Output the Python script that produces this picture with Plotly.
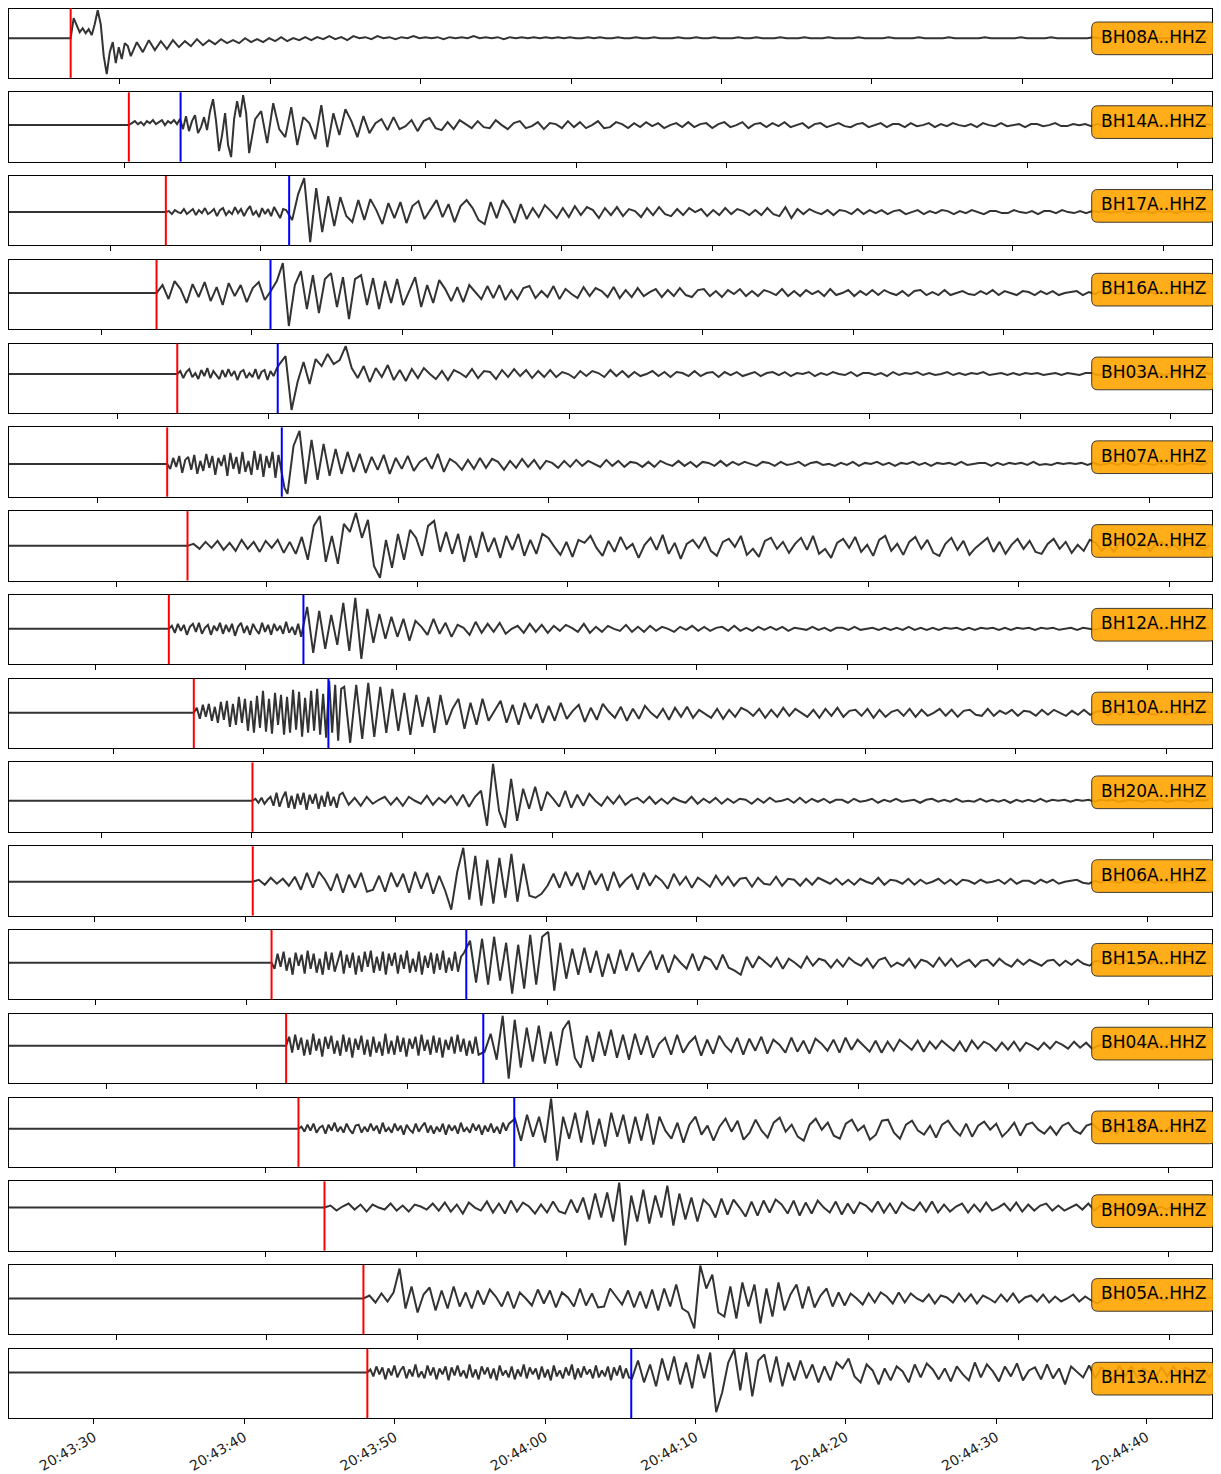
import datetime
import plotly.graph_objects as go

# ---------------- data ----------------
DAY = "2020-01-01"
stations = ["BH08A", "BH14A", "BH17A", "BH16A", "BH03A", "BH07A", "BH02A", "BH12A", "BH10A",
            "BH20A", "BH06A", "BH15A", "BH04A", "BH18A", "BH09A", "BH05A", "BH13A"]
channel = "HHZ"
trace_start = ["20:43:22.625", "20:43:22.292", "20:43:23.243", "20:43:23.860", "20:43:22.757",
               "20:43:24.126", "20:43:22.844", "20:43:24.259", "20:43:23.043", "20:43:23.860",
               "20:43:24.286", "20:43:24.219", "20:43:23.528", "20:43:22.910", "20:43:22.910",
               "20:43:22.844", "20:43:24.352"]
window_s = 80.0
# pick times, seconds after trace start
p_pick = [4.10, 7.97, 10.43, 9.81, 11.19, 10.52, 11.87, 10.63, 12.29, 16.19, 16.21, 17.46,
          18.43, 19.25, 20.98, 23.57, 23.83]
s_pick = [None, 11.41, 18.63, 17.39, 17.87, 18.14, None, 19.58, 21.24, None, None, 30.41,
          31.54, 33.60, None, None, 41.38]
# y limits of each panel (counts)
y_upper = [29.7, 32.9, 36.1, 33.3, 30.5, 36.6, 34.8, 34.0, 34.2, 38.4, 35.6, 32.8, 32.0, 31.2,
           26.3, 33.5, 23.7]
y_lower = [-39.8, -36.6, -33.4, -36.2, -39.0, -32.9, -34.7, -35.5, -35.3, -31.1, -33.9, -36.7,
           -37.5, -38.3, -43.2, -36.0, -45.8]

DT_FINE = 0.2    # first part after the P pick (fine_* lists)
DT_COARSE = 0.4  # remainder of the record (amp_* lists), follows the fine part

fine_BH08A = [0, 20, 13, 6, 10, 5, 9, 3, 14, 28,
              14, -18, -36, -14, -4, -25, -9, -21, -5, -8]
amp_BH08A = [
    -18, -4, -14, -2, -12, -3, -11, -2, -9, -3,
    -8, -1, -7, -2, -6, -1, -5, -2, -5, 0, -4, -1, -4, 0, -3, 1, -3, 0, -2, 1,
    -2, 1, -1, 2, -1, 1, -2, 2, 0, 1, -1, 2, 0, 1, -1, 1, 0, 2, 0, 1,
    0, 1, -1, 1, 0, 1, 0, 2, 0, 1, 0, 1, -1, 1, 0, 1, 0, 1, 0, 1,
    0, 1, 0, 1, 0, 0, 1, 0, 1, 0, 0, 1, 0, 0, 1, 0, 0, 1, 0, 0,
    0, 1, 0, 0, 1, 0, 0, 1, 0, 0, 0, 1, 0, 0, 1, 0, 0, 0, 1, 0,
    0, 0, 1, 0, 0, 0, 1, 0, 0, 0, 0, 1, 0, 0, 0, 0, 1, 0, 0, 0,
    0, 1, 0, 0, 0, 0, 1, 0, 0, 0, 0, 0, 1, 0, 0, 0, 0, 0, 1, 0,
    0, 0, 0, 1, 0, 0, 0, 0, 0, 0, 1, 0, 0, 0, 0, 0, 0, 0, 0, 0,
    0, 0, 0, 0, 0, 0, 0, 0, 0, 0]

fine_BH14A = [0, 2, 4, 1, 3, 0, 4, 2, 5, 1,
              3, 5, 0, 4, 2, 5, 1, 6, -4, 9,
              -6, 4, 10, -8, -2, 8, -5, 14, 26, 4,
              -26, -10, 12, -20, -32, 6, 24, 8, 30, 12]
amp_BH14A = [
    -28, 6, 14, -18, 22, -4, -12, 18, -20, 8, 2, -14, 20, -22, 12, -10, 16, 4, -12, 9,
    -8, 2, 6, -5, 8, -4, -1, 5, -6, 4, 7, -3, -5, 3, -4, 5, 1, -3, 4, -2,
    -3, 5, 0, -4, 2, 4, -3, -1, 3, -4, 2, 1, -3, 4, -2, 3, -3, 0, 4, -3,
    -2, 3, 1, -3, 2, -2, 3, -1, 2, -3, 0, 2, -2, 3, -2, 1, 2, -3, 1, 3,
    -2, 0, 3, -3, 1, 2, -2, 2, -1, 3, -2, 0, 2, -3, 1, 2, -2, 0, 2, -1,
    -2, 1, 2, -2, 0, 2, -2, 1, 1, -2, 2, -1, 0, 2, -2, 1, -1, 2, 0, -1,
    1, -2, 2, 0, -1, 2, -1, 0, 1, -2, 1, 1, -1, 0, 2, -1, -1, 1, 0, 1,
    -1, 1, 0, 2, -1, 0, 1, -1, 0, 1, 1, -1, 0, 1, -1, 0, 1, 0, -1, 1,
    0]

fine_BH17A = [0, 1, -2, 2, 0, -1, 3, -2, 1, 3,
              -3, 2, -1, 4, -2, 0, 3, -4, 2, 4,
              -3, 1, -2, 5, -1, 3, -4, 2, 6, -3,
              1, -5, 4, -2, 3, -4, 5, -1, -6, 3]
amp_BH17A = [
    2, -8, 18, 34, -30, 24, -20, 16, -14, 15, -4, -10, 12, -8, 13, 2, -12, 9, -6, 10,
    -11, 6, 11, -7, 3, 12, -5, 8, -10, 6, 12, 4, -8, -12, 10, -6, 12, 3, -11, 8,
    -7, 4, -5, 7, 1, -6, 4, -5, 6, -3, 5, 2, -6, 4, -3, 5, -4, 3, 1, -5,
    4, -3, 5, -2, -4, 3, -3, 4, 0, 3, -4, 2, -3, 4, -2, 3, 1, -3, 2, -3,
    4, -2, -4, 5, -6, 3, -2, 3, 0, -2, 2, -3, 2, 1, -2, 3, -2, 2, -1, 2,
    -2, 1, 2, -2, 0, 2, -2, 1, -1, 2, 1, -2, 1, -1, 2, 0, -2, 1, 1, -1,
    -1, 2, 0, -1, 1, -2, 1, 1, -1, 2, 0, -1, 1, -1, 1, 0, 1, -1, 0, 1,
    -1, 1, 0, 1, -1, 1, 0, 1, -1, 1, 0, 1, 0, 1, 0]

fine_BH16A = []
amp_BH16A = [
    0, 8, -6, 12, 4, -10, 9, -4, 11, -8, 6, -12, 10, -3, 8, -9, 5, 11, -7, 2,
    12, 30, -33, 8, 22, -16, 18, -20, 14, 20, -14, 16, -26, 14, 18, -12, 15, -16, 12, -10,
    14, -12, 2, 16, -14, 8, -10, 13, 4, -8, 6, -9, 8, 1, -6, 7, -5, 8, -7, 3,
    -6, 5, 7, -5, 2, -4, 7, -6, 4, -1, -5, 6, -3, 5, 2, -4, 6, -5, 3, -4,
    5, -3, 1, 4, -4, 3, -3, 5, -2, -4, 3, 4, -3, 2, -4, 3, -1, 4, -3, 2,
    -3, 3, 1, -2, 4, -3, 2, -3, 3, -1, 2, -3, 4, -2, 0, 3, -3, 2, -2, 3,
    -2, 3, 0, -2, 2, -3, 2, 3, -2, 1, -2, 3, -2, 0, 2, -1, -2, 2, -1, 3,
    -2, 2, 0, -2, 2, 1, -2, 2, -1, 2, -2, 0, 1, 2, -2, 1, -1, 2, -1, 1,
    -1, 2, -1, 0, 1, 2, -1, 1, -1, 0, 1, 1, -1, 1, 0, 1]

fine_BH03A = [0, 3, -4, 2, 5, -3, 1, -5, 4, -2,
              6, -4, 3, -1, -5, 4, -3, 5, -2, 3,
              -6, 2, 4, -4, 1, -3, 5, -5, 2, 4,
              -6, 3, -2, 5]
amp_BH03A = [
    10, 18, -36,
    -8, 12, -10, 15, 8, 20, 10, 14, 28, 6, -4, 8, -8, 6, -3, 9, -6, 4, -7, 5,
    -4, 6, 0, -5, 3, -6, 4, 1, -3, 5, -4, 3, 2, -5, 4, -3, 5, -2, 4, -4,
    3, -3, 4, -3, 2, 0, -4, 3, -2, 3, 1, -3, 4, -2, 3, -3, 2, -2, 0, 3,
    -2, 2, -3, 2, 1, -2, 3, -2, 1, 2, -3, 2, -1, 2, -2, 0, 2, -2, 1, 2,
    -1, 2, -2, 1, 0, 2, -2, 1, -1, 2, 0, -1, 2, -2, 1, 1, -1, 1, -2, 2,
    -1, 1, 0, 2, -1, 1, -1, 0, 2, -1, 1, -1, 1, 0, 2, -1, 0, 1, -1, 1,
    -1, 1, 0, 1, -1, 0, 1, -1, 1, 0, -1, 1, 1, -1, 0, 1, 0, -1, 1, 0,
    -1, 1, 0, 1, -1, 0, 1, 0, 1, 0, -1, 1, 0]

fine_BH07A = [0, -5, 6, -3, 8, -9, 4, 7, -6, 9,
              -10, 3, -7, 10, -4, 8, -11, 6, -2, 9,
              -12, 11, -5, 7, -10, 12, -8, 3, -11, 13,
              -6, 10, -13, 8, -4, 12, -14, 9, -7, -24]
amp_BH07A = [
    -30, 18, 33, -20, 24, -16, 20, -12, 15, -10, 12, -8, 10, -9, 7, -6, 9, -10, 6, -5,
    8, -7, 2, 6, -5, 10, -8, 5, 1, -6, 4, -5, 6, -4, 5, 2, -6, 3, -4, 5,
    -3, 4, -5, 3, 1, -4, 3, -3, 4, -2, 3, 0, -3, 4, -2, 3, -3, 2, 1, -3,
    2, -3, 3, 0, -2, 3, -2, 2, -3, 2, 1, -2, 3, -2, 2, -1, 2, 0, -2, 2,
    1, -2, 2, -1, 0, 2, -2, 1, 2, -1, 0, -2, 1, -1, 2, -2, 1, 0, 2, -1,
    1, -2, 1, 0, 2, -1, 1, -2, 1, 0, 1, -1, 2, -1, 0, 1, 1, -2, 1, -1,
    1, 0, 1, -1, 2, -1, 0, -1, 1, 0, 1, 0, 1, -1, 1, -1, 0, 1, -1, 1,
    0, -1, 1, 0, -1, 1, 0, 1, -1, 0, 1, 0, -1, 1]

fine_BH02A = []
amp_BH02A = [
    0, 2, -3, 4, -2, 5, -4, 3, -5, 6, -3, 4, -6, 5, -2, 6, -7, 4, -8, 9,
    -14, 20, 30, -16, 10, -18, 22, 14, 33, 8, 26, -20, -32, 6, -22, 12, -14, 16, 8, -10,
    20, 25, -6, 14, -8, 12, -16, 10, -12, 14, -6, 8, -12, 10, -4, 12, -10, 6, -8, 12,
    8, -1, -9, 4, -11, 6, 3, 10, -2, -10, 5, -6, 9, -3, 2, -12, 1, 8, -4, 11,
    -8, 3, -13, 2, 6, -2, 9, -5, -10, 4, 7, -1, 10, -9, -3, -11, 5, 8, -3, 4,
    -7, 2, 8, -4, 10, -8, -3, -12, 3, 7, -2, 9, -6, 1, -10, 6, 10, -5, 2, -9,
    4, 9, -3, 6, -7, -10, 2, 8, -4, 5, -9, -2, 3, 8, -6, 4, -8, 1, 7, -3,
    5, -6, -8, 2, 7, -3, 4, -7, 1, -5, 6, 3, -5, 2, -6, 4, 5, -2, -4, 3,
    -5, 2, 4, -2, 1, -4, 3, 3, -1, -3, 1]

fine_BH12A = [0, 3, -4, 5, -2, 4, -6, 2, 5, -3,
              6, -5, 1, 4, -6, 3, -2, 6, -5, 4,
              -3, 5, -7, 2, 6, -4, 3, -6, 5, -1,
              -5, 6, -3, 4, -6, 5, -2, 3, -5, 7,
              -4, 2, -6, 5]
amp_BH12A = [
    -8, 22, -24, 18, -20, 14, -16, 26, -22, 31, -30, 20, -14, 15, -10, 12, -8, 10,
    -12, 8, 2, -6, 10, -5, 6, -8, 4, 1, -6, 7, -4, 5, -3, 6, -5, 0, 3, -4,
    5, -3, 4, -4, 3, -2, 4, 1, -3, 5, -4, 2, -3, 3, 0, -2, 4, -3, 2, -3,
    3, -2, 2, 0, -3, 2, -1, 3, -2, 2, -2, 1, 2, -2, 3, -2, 1, -2, 2, -1,
    2, -1, 2, -2, 1, 0, -1, 2, -1, 1, -2, 1, 1, -1, 2, -1, 0, 1, -1, 1,
    -1, 1, -1, 2, -1, 1, -1, 1, -1, 1, 0, 1, -1, 1, -1, 1, 0, 1, -1, 1,
    -1, 1, 0, 1, -1, 1, 0, 1, -1, 0, 1, -1, 1, 0, -1, 1, 0, 1, -1, 0,
    1, -1, 0, 1, 0, -1, 1, 0, 1, -1, 0, 1, 0, 1]

fine_BH10A = [0, 5, -6, 8, -4, 9, -8, 6, -10, 11,
              -7, 12, -14, 9, -12, 16, -10, 14, -18, 12,
              -20, 17, -15, 22, -19, 14, -21, 20, -12, 18,
              -22, 16, -20, 23, -17, 21, -24, 15, -20, 22,
              -18, 24, -22, 19, -25, 32, -20, 28, -28, 24]
amp_BH10A = [
    26, -30, 28, -26, 30, -24, 26, -20, 24, -18, 20, -22, 18, -14, 16,
    -20, 18, -12, 4, 14, -16, 10, -12, 14, -8, 2, 12, -10, 8, -12, 10, -6, 9, -10, 7,
    -8, 10, -6, 2, 8, -9, 5, -7, 9, 1, -5, 6, -8, 4, -6, 7, 0, -5, 4, -7,
    5, -4, 6, -5, 3, -1, -5, 4, -6, 3, -4, 5, 2, -3, 4, -5, 3, -4, 5, -3,
    4, 0, -4, 3, -5, 4, -3, 5, -4, 2, 3, -3, 4, -5, 3, -4, 1, 3, -3, 4,
    -4, 3, -3, 0, 4, -3, 3, -4, 2, 3, -2, -3, 4, -3, 2, -1, 3, -3, 2, 1,
    -3, 3, -2, 3, 0, -3, 2, -2, 3, -2, 1, 2, -3, 2, -2, 2, 0, -2, 3, -1,
    -2, 2, 0, -1, 2, -2, 1, -1, 2, 0]

fine_BH20A = [0, 2, -2, 3, -3, 1, 4, -5, 8, -6,
              3, 9, -7, 5, -8, 7, -4, 8, -9, 6,
              -3, 7, -8, 5, -6, 9, -5, 4, -7, 6]
amp_BH20A = [
    8, -4, 3, -5, 4,
    -3, 1, 4, -4, 3, -5, 4, 0, -3, 5, -4, 3, -2, 5, -4, 6, -6, 4, 10, -25,
    37, -10, -27, 22, -20, 12, -8, 14, -10, 9, 2, -6, 10, -7, 6, -5, 7, 0, -5, 4,
    -3, 5, -4, 1, 3, -2, 4, -3, 2, -3, 3, 0, -2, 4, -3, 2, -2, 3, -3, 2,
    -2, 2, 1, -3, 2, -2, 3, -1, 0, 2, -2, 3, -2, 2, -1, 2, -2, 1, 1, -2,
    2, -1, 0, 2, -2, 1, -1, 2, -1, 0, 1, -2, 1, 2, -1, 1, -1, 2, -1, 0,
    -1, 2, -1, 1, -1, 1, -2, 1, -1, 1, -1, 2, -1, 1, 0, 1, -1, 1, 0, 1,
    -1, 1, 0, 1, -1, 0, 1, 0, -1, 1, 0, 1, -1, 0, 1, 0, -1, 1, 0, 1]

fine_BH06A = []
amp_BH06A = [
    0, 2, -3, 4, -2, 3, -4, 5, -8, 9, -6, 10, 2, -9, 8, -11, 7, -6, 9, -10,
    -8, 6, -10, 9, -5, 8, -11, 10, -7, 9, -12, 6, -9, -28, 10, 34, -18, 26, -24, 22,
    -22, 24, -16, 28, -20, 18, -14, -16, -12, -4, 8, -6, 10, -4, 9, -8, 11, -3, 8, -9,
    10, -5, 2, 7, -8, 9, -4, 6, 1, -7, 8, -3, 5, -6, 4, 0, -5, 6, -3, 5,
    -4, 3, 4, -5, 4, -2, -3, 5, -4, 3, 2, -4, 3, -3, 4, 1, -2, 3, -3, 2,
    -3, 3, 0, -2, 4, -3, 2, 1, -2, 3, -3, 2, -2, 0, 3, -2, 2, -3, 2, 1,
    -2, 2, -1, 0, 2, -2, 3, -2, 1, 1, -2, 2, -1, 2, -2, 0, 1, 2, -1, -2,
    1, -1, 2, 0, -1, 1, 1, -1, 0, 1, -1, 1, 0, -1, 1, 0, 1, -1, 0, 1]

fine_BH15A = [0, -6, 9, -4, 11, -8, 5, -12, 10, -3,
              8, -11, 12, -6, 9, -10, 4, -12, 11, -7,
              10, -9, 3, 12, -11, 8, -5, 10, -12, 7,
              -9, 11, -4, 12, -10, 6, -8, 11, -12, 9,
              -3, 10, -11, 8, -6, 12, -10, 4, -9, 11,
              -12, 7, -5, 10, -11, 9, -7, 12, -10, 5,
              -8, 11, -9, 6]
amp_BH15A = [
    10, 22, -20, 24, -22, 26, -18, 20,
    -31, 18, -26, 28, -22, 26, 31, -28, 20, -16, 14, -12, 15, -10, 12, -14, 9, -11, 13, -8,
    10, -9, 2, 12, -7, 8, -10, 7, 0, -6, 9, -8, 6, 3, -7, 8, -5, -8, -12, 6,
    -5, 6, 1, -4, 5, -6, 4, 0, -5, 6, -3, 4, 2, -5, 3, -4, 5, 0, -3, 4,
    -5, 3, 5, -4, 0, -3, 4, -5, 3, 1, -4, 5, -3, 4, -4, 0, 3, -4, 2, 3,
    -3, 4, -1, -4, 3, -2, 3, 0, -3, 2, 3, -3, 2, -2, 3, -1, -3, 2, 1, -2,
    3, -2, 2, 0, -2, 2, -1, 2, -2, 0, 1, -2, 1, 2, -1, 1, -1]

fine_BH04A = [0, 9, -7, 11, -4, 8, -10, 6, -9, 12,
              -5, 7, -11, 9, -3, 10, -8, 5, -10, 11,
              -6, 8, -12, 7, -4, 10, -9, 6, -11, 9,
              -7, 4, -10, 12, -8, 5, -9, 10, -6, 8,
              -11, 7, -3, 9, -10, 11, -5, 6, -9, 10,
              -7, 8, -12, 6, -4, 9, -8, 11, -6, 7,
              -10, 5, -8, 9]
amp_BH04A = [
    -9, -6, 12, -14, 30, -33, 26, -22,
    18, -16, 20, -18, 14, -20, 16, 25, -12, -22, 10, -16, 14, -10, 16, -12, 11, -14, 12, -9,
    10, -12, 2, 8, -9, 11, -7, 3, 9, -10, 6, -8, 10, 0, -6, 8, -9, 7, -5, 9,
    -8, 6, 1, -7, 8, -6, 5, -8, 7, 2, -5, 6, -7, 8, -4, 6, 0, -6, 5, -7,
    4, -5, 6, 1, -4, 5, -6, 4, -3, 5, 0, -5, 4, -6, 5, -3, 4, 1, -5, 3,
    -4, 4, -5, 3, 0, -4, 3, -3, 4, 1, -3, 4, -2, 3, -3, 0, 2, -3, 3, -2,
    3, -2, 0, 2, -3, 2, -1, 2, -2, 1, 1, -2, 2, -1]

fine_BH18A = [0, 2, -3, 4, -2, 5, -4, 1, 3, -5,
              4, -2, 6, -3, 2, -4, 5, -1, -5, 3,
              4, -4, 2, -3, 5, -2, 3, -5, 6, -3,
              1, -4, 5, -2, 3, -6, 4, -1, -4, 5,
              -3, 2, 6, -4, 3, -5, 2, -3, 5, -6,
              4, -2, 3, -5, 6, -3, 1, -4, 5, -2,
              4, -6, 3, -3, 5, -4, 2, -5, 6, -2]
amp_BH18A = [
    5, 10, -12, 14, -8,
    12, -14, 30, -32, 12, -10, 16, -14, 18, -16, 10, -18, 16, -8, 14, -15, 12, -12, 15, -16,
    12, -2, -10, 6, -14, 4, 12, -6, 3, -12, 2, 10, -3, 8, -11, -4, 9, -2, -9, 6,
    11, -3, 4, -8, -12, 4, 10, -1, 6, -7, -10, 5, 9, -2, 3, -11, -6, 8, 9, -4,
    -10, 4, 8, -2, -6, 3, -9, 4, 8, -1, -7, 5, -8, 3, 7, -1, 5, -8, -2, 6,
    -7, 4, 6, -1, -5, 2, -6, 3, 6, -2, -5, 3, 5, -1, -4, 2, -5, 4, -1, 3,
    -4, 2, 4, -1, -3, 2, -3, 2, 2, -1, -2, 1]

fine_BH09A = []
amp_BH09A = [
    0, 2, -3, 1, 4, -2, 3, -4, 3, 0, -2, 4, -3, 2, -4, 3, 1, -2, 4, -3,
    5, -4, 3, -6, 5, 0, -3, 6, -5, 4, -6, 7, -4, 5, 1, -6, 3, -5, 6, -4,
    -6, 8, -5, 10, -12, 14, -10, 15, -14, 25, -38, 12, -14, 18, -16, 12, -10, 22, -18, 14,
    -12, 10, -14, 8, 2, -10, 9, -7, 8, 0, -9, 6, -8, 7, -5, 8, 3, -6, 7, -8,
    5, -6, 7, 0, -5, 6, -7, 4, -6, 5, 2, -4, 6, -5, 4, -6, 5, 0, -3, 5,
    -4, 6, -5, 3, -4, 1, 4, -5, 3, -4, 5, -3, 0, 4, -3, 5, -4, 3, -3, 2,
    4, -3, 2, -3, 0, 3, -2, 4, -3, 2, -2, 1, 3, -2, 2, -3, 1, 2, -2, 1,
    -2, 2, 0, -1, 2, -1, 1, -1]

fine_BH05A = []
amp_BH05A = [
    0, 3, -4, 5, -3, 6, 30, -10, 12, -14, 4, 11, -12, 8, -10, 12, -8, 6, -10, 8,
    -6, 9, 2, -8, 7, -10, 6, 0, -7, 9, -5, 8, -9, 6, 1, -8, 10, -7, 5, -9,
    -8, 10, 2, -6, 8, -9, 7, -10, 9, -12, 10, -8, 14, -10, -14, -30, 33, 10, 24, -14,
    -18, 12, -20, 16, -8, 14, -25, 10, -18, 16, -12, 4, 14, -10, 12, -9, 3, 10, -8, 6,
    -7, 5, 0, -6, 5, -4, 6, 2, -5, 6, -4, 5, 0, -3, 4, -5, 3, 1, -4, 5,
    -3, 4, -5, 3, 0, -4, 4, -3, 5, -4, 1, 3, -3, 4, -4, 2, -3, 0, 4, -3,
    2, -2, -5, -1, 3, 2, -2, 3, 0, -2, 2, -1, 2, -2, 1, 0, -1, 2, -1, 1,
    0, 1]

fine_BH13A = [0, 3, -4, 6, -2, 5, -7, 4, -3, 7,
              -5, 2, 6, -6, 3, -4, 8, -5, 1, -6,
              7, -3, 5, -7, 4, -2, 6, -8, 5, -3,
              7, -4, 2, -6, 8, -5, 3, -7, 6, -2,
              5, -6, 4, -8, 7, -3, 2, -5, 6, -7,
              3, -4, 8, -6, 5, -2, 4, -7, 6, -5,
              3, -8, 7, -4, 2, -6, 5, -3, 8, -7,
              4, -5, 6, -2, 3, -6, 7, -5, 2, -4,
              6, -8, 5, -3, 7, -6, 4, -5]
amp_BH13A = [
    -6, 12, -10, 8, -14, 14, -8, 16, -12, 10, -16, 18, -6, 20, -40, -20,
    10, 23, -18, 20, -24, 12, 18, -10, 16, -14, 10, -8, 12, -6, 8, -10, 6, -8, 10, 4,
    14, -4, -10, 8, 2, -12, 4, -8, 6, 1, -10, 8, -5, 9, 3, -7, 4, -9, 6, -2,
    -8, 10, -5, 8, 1, -9, 6, -4, 9, -8, 2, 5, -7, 8, -6, 4, -12, 6, 0, -5,
    7, -6, 5, 1, -8, 7, -4, 6, -5, 4, 0, -6, 5, -4, 6, -3, 5, 2, -4, 3,
    -5, 4, -3, 4, 0, -2, 3, -4, 3, -2, 2, -1]

fines = [fine_BH08A, fine_BH14A, fine_BH17A, fine_BH16A, fine_BH03A, fine_BH07A, fine_BH02A,
         fine_BH12A, fine_BH10A, fine_BH20A, fine_BH06A, fine_BH15A, fine_BH04A, fine_BH18A,
         fine_BH09A, fine_BH05A, fine_BH13A]
amps = [amp_BH08A, amp_BH14A, amp_BH17A, amp_BH16A, amp_BH03A, amp_BH07A, amp_BH02A,
        amp_BH12A, amp_BH10A, amp_BH20A, amp_BH06A, amp_BH15A, amp_BH04A, amp_BH18A,
        amp_BH09A, amp_BH05A, amp_BH13A]

# ---------------- layout geometry (px, figure coordinates) ----------------
W, H = 1213, 1466
ML, MR, MT, MB = 1, 9, 0, 56
PW = W - ML - MR
PH = H - MT - MB
PANEL_TOP0, PITCH, PANEL_H = 0.5, 83.77, 69.4


def fx(X):
    return (X - ML) / PW


def fy(Y):
    return (MT + PH - Y) / PH


def clamp(v):
    return min(1.0, max(0.0, v))


def fmt(t):
    return t.strftime("%Y-%m-%d %H:%M:%S.%f")


def rounded_box(X0, Y0, X1, Y1, r):
    pts = [
        ("M", [(X0 + r, Y0)]), ("L", [(X1 - r, Y0)]), ("Q", [(X1, Y0), (X1, Y0 + r)]),
        ("L", [(X1, Y1 - r)]), ("Q", [(X1, Y1), (X1 - r, Y1)]), ("L", [(X0 + r, Y1)]),
        ("Q", [(X0, Y1), (X0, Y1 - r)]), ("L", [(X0, Y0 + r)]), ("Q", [(X0, Y0), (X0 + r, Y0)]),
    ]
    s = ""
    for cmd, pl in pts:
        s += cmd + " " + " ".join(f"{fx(a):.5f},{fy(b):.5f}" for a, b in pl) + " "
    return s + "Z"


fig = go.Figure()
shapes = []
annotations = []
n = len(stations)
for k in range(n):
    sfx = "" if k == 0 else str(k + 1)
    t0 = datetime.datetime.strptime(f"{DAY} {trace_start[k]}", "%Y-%m-%d %H:%M:%S.%f")
    tp = t0 + datetime.timedelta(seconds=p_pick[k])
    xs = [fmt(t0)]
    ys = [0]
    for i, v in enumerate(fines[k]):
        xs.append(fmt(tp + datetime.timedelta(seconds=i * DT_FINE)))
        ys.append(v)
    t_c = tp + datetime.timedelta(seconds=len(fines[k]) * DT_FINE)
    for i, v in enumerate(amps[k]):
        xs.append(fmt(t_c + datetime.timedelta(seconds=i * DT_COARSE)))
        ys.append(v)
    fig.add_trace(go.Scatter(x=xs, y=ys, mode="lines",
                             line=dict(color="#333333", width=2),
                             xaxis="x" + sfx, yaxis="y" + sfx,
                             hoverinfo="skip", showlegend=False))
    top = PANEL_TOP0 + PITCH * k
    bot = top + PANEL_H
    last = (k == n - 1)
    fig.layout["xaxis" + sfx] = dict(
        type="date", range=[fmt(t0), fmt(t0 + datetime.timedelta(seconds=window_s))],
        domain=[0, 1], anchor="y" + sfx,
        showline=True, mirror=True, linecolor="black", linewidth=1,
        ticks="outside", ticklen=5, tickwidth=1, tickcolor="black",
        tick0=f"{DAY} 20:43:00", dtick=10000,
        showgrid=False, zeroline=False, showticklabels=last,
        tickformat="%H:%M:%S", tickangle=-30,
        tickfont=dict(size=14, color="#222222", family="DejaVu Sans"),
        fixedrange=True)
    fig.layout["yaxis" + sfx] = dict(
        domain=[clamp(fy(bot)), clamp(fy(top))], anchor="x" + sfx,
        range=[y_lower[k], y_upper[k]],
        showline=True, mirror=True, linecolor="black", linewidth=1,
        showticklabels=False, ticks="", showgrid=False, zeroline=False, fixedrange=True)

    tps = fmt(tp)
    shapes.append(dict(type="line", xref="x" + sfx, yref="y" + sfx + " domain",
                       x0=tps, x1=tps, y0=0, y1=1, line=dict(color="red", width=2)))
    if s_pick[k] is not None:
        ts = fmt(t0 + datetime.timedelta(seconds=s_pick[k]))
        shapes.append(dict(type="line", xref="x" + sfx, yref="y" + sfx + " domain",
                           x0=ts, x1=ts, y0=0, y1=1, line=dict(color="blue", width=2)))
    shapes.append(dict(type="path", xref="paper", yref="paper",
                       path=rounded_box(1083.7, top + 13.5, 1207.7, top + 46.2, 6),
                       fillcolor="rgba(255,165,0,0.9)",
                       line=dict(color="rgba(30,30,30,0.85)", width=1), layer="above"))
    annotations.append(dict(text=f"{stations[k]}..{channel}", xref="paper", yref="paper",
                            x=fx(1145.7), y=fy(top + 28.4), showarrow=False,
                            xanchor="center", yanchor="middle",
                            font=dict(size=17, color="black", family="DejaVu Sans")))

fig.update_layout(width=W, height=H, margin=dict(l=ML, r=MR, t=MT, b=MB),
                  paper_bgcolor="white", plot_bgcolor="white",
                  font=dict(family="DejaVu Sans"),
                  shapes=shapes, annotations=annotations, showlegend=False)

fig.write_html("out.html")
